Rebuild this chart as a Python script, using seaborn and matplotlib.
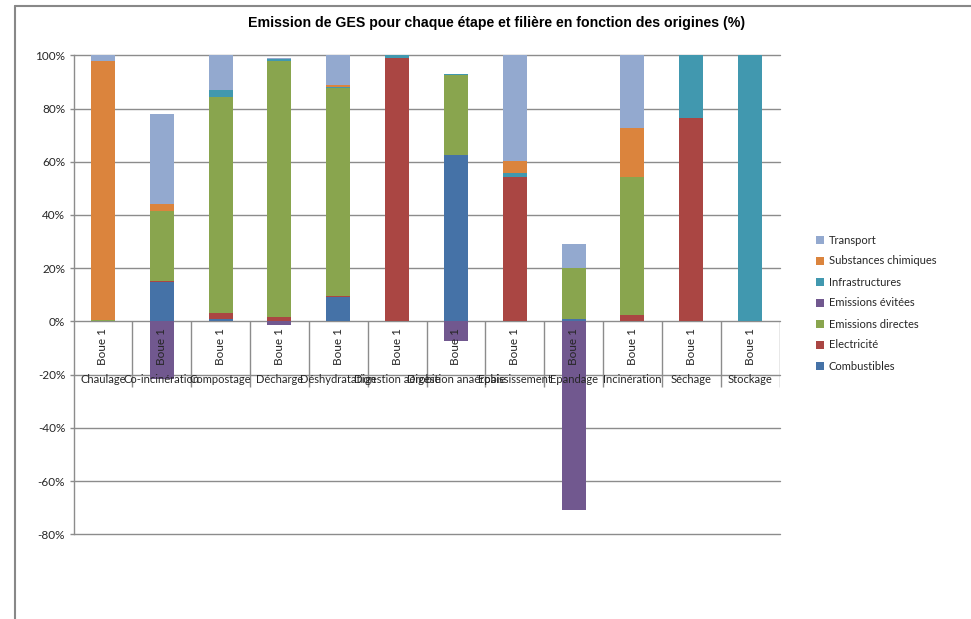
import numpy as np
import pandas as pd
import matplotlib
matplotlib.use("Agg")
import matplotlib.pyplot as plt
import seaborn as sns
from matplotlib.patches import Patch
from matplotlib.lines import Line2D
from matplotlib.ticker import FuncFormatter

# ---------------- data ----------------
categories = ["Chaulage", "Co-incinération", "Compostage", "Décharge", "Déshydratation",
              "Digestion aérobie", "Digestion anaérobie", "Epaississement", "Epandage",
              "Incinération", "Séchage", "Stockage"]
sub_label = "Boue 1"

combustibles = [0, 14.7, 0.9, 0, 9.3, 0, 62.7, 0, 1.0, 0, 0, 0]
electricite = [0, 0.6, 2.4, 1.8, 0.4, 99.1, 0, 54.4, 0, 2.5, 76.4, 0]
emissions_directes = [0.5, 26.2, 81.2, 96.2, 77.9, 0, 30.0, 0, 19.2, 51.9, 0, 0]
emissions_evitees = [0, -21.5, 0, -1.2, 0, 0, -7.5, 0, -71.0, 0, 0, 0]
infrastructures = [0, 0, 2.3, 0.7, 0.4, 0.9, 0.3, 1.4, 0, 0, 23.6, 100]
substances_chimiques = [97.5, 2.8, 0, 0, 0.9, 0, 0, 4.4, 0, 18.4, 0, 0]
transport = [2.0, 33.5, 13.3, 0.4, 11.2, 0, 0, 39.8, 9.0, 27.2, 0, 0]

y_ticks = [-80, -60, -40, -20, 0, 20, 40, 60, 80, 100]
title = "Emission de GES pour chaque étape et filière en fonction des origines (%)"

# ---------------- style ----------------
colors = {
    "Combustibles": "#4572A7",
    "Electricité": "#AA4643",
    "Emissions directes": "#89A54E",
    "Emissions évitées": "#71588F",
    "Infrastructures": "#4198AF",
    "Substances chimiques": "#DB843D",
    "Transport": "#93A9CF",
}
grid_col = "#8c8c8c"
txt_col = "#262626"

sns.set_theme(style="white")
plt.rcParams['font.family'] = ['Lato', 'DejaVu Sans']

fig = plt.figure(figsize=(9.71, 6.19), dpi=100)
ax = fig.add_axes([73.5 / 971, 1 - 534.3 / 619, (779.5 - 73.5) / 971, (534.3 - 55.3) / 619])

df = pd.DataFrame({
    "cat": categories,
    "Combustibles": combustibles,
    "Electricité": electricite,
    "Emissions directes": emissions_directes,
    "Infrastructures": infrastructures,
    "Substances chimiques": substances_chimiques,
    "Transport": transport,
    "Emissions évitées": emissions_evitees,
})
pos_series = ["Combustibles", "Electricité", "Emissions directes", "Infrastructures",
              "Substances chimiques", "Transport"]
cum = df[pos_series].cumsum(axis=1)
cum["cat"] = df["cat"]

bar_w = 0.41
for s in reversed(pos_series):
    sns.barplot(data=cum, x="cat", y=s, order=categories, color=colors[s], width=bar_w,
                saturation=1, errorbar=None, ax=ax, zorder=2, linewidth=0,
                edgecolor='none')
sns.barplot(data=df, x="cat", y="Emissions évitées", order=categories,
            color=colors["Emissions évitées"], width=bar_w, saturation=1,
            errorbar=None, ax=ax, zorder=2, linewidth=0, edgecolor='none')

ax.set_xlabel("")
ax.set_ylabel("")
ax.set_xlim(-0.5, len(categories) - 0.5)
ax.set_ylim(-80, 100)
ax.set_yticks(y_ticks)
ax.yaxis.set_major_formatter(FuncFormatter(lambda v, p: f"{int(round(v))}%"))
ax.yaxis.grid(True, color=grid_col, lw=1)
for gl in ax.yaxis.get_gridlines():
    gl.set_clip_on(False)
ax.set_axisbelow(True)
ax.tick_params(axis='y', left=True, length=3, width=1, color=grid_col, direction='out',
               labelsize=8.5, labelcolor=txt_col, pad=3)
ax.tick_params(axis='x', bottom=False, labelbottom=False, length=0)
for sp in ["top", "right", "bottom"]:
    ax.spines[sp].set_visible(False)
ax.spines["left"].set_color(grid_col)
ax.spines["left"].set_linewidth(1)

# multi-level category axis
xs = np.arange(len(categories))
ax.vlines(xs + 0.5, -24.7, 0, color=grid_col, lw=1, zorder=1)
for i, c in enumerate(categories):
    ax.text(i, -9.3, sub_label, rotation=90, ha='center', va='center', fontsize=8.5,
            color=txt_col, zorder=4)
    ax.text(i, -21.8, c, ha='center', va='center', fontsize=8, color=txt_col, zorder=4)

# title
fig.text(497 / 971, 1 - 22.5 / 619, title, ha='center', va='center', fontsize=10.2,
         fontweight='bold', family='Liberation Sans', color="#000000")

# legend
leg_order = ["Transport", "Substances chimiques", "Infrastructures", "Emissions évitées",
             "Emissions directes", "Electricité", "Combustibles"]
handles = [Patch(facecolor=colors[s], edgecolor='none') for s in leg_order]
fig.legend(handles, leg_order, loc='upper left', bbox_to_anchor=(816 / 971, 1 - 234.5 / 619),
           frameon=False, fontsize=8, handlelength=0.7, handleheight=0.7, handletextpad=0.45,
           labelspacing=0.9, borderpad=0, borderaxespad=0, labelcolor=txt_col)

# chart area border (cropped)
fig.add_artist(Line2D([14.5 / 971, 1], [1 - 6 / 619, 1 - 6 / 619], transform=fig.transFigure,
                      color="#888888", lw=1.5))
fig.add_artist(Line2D([14.5 / 971, 14.5 / 971], [1 - 6 / 619, 0], transform=fig.transFigure,
                      color="#888888", lw=1.5))

fig.savefig("out.png", dpi=100)
